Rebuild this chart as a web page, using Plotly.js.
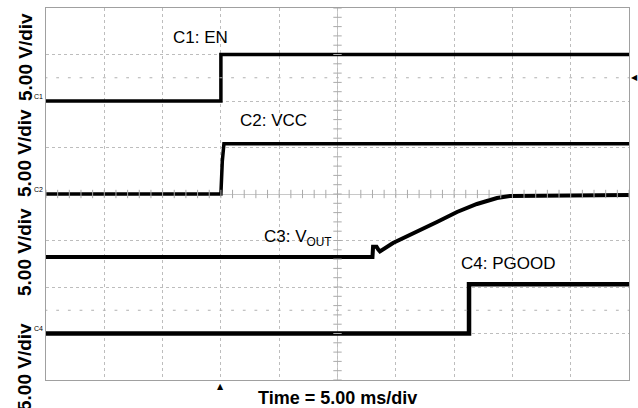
<!DOCTYPE html>
<html>
<head>
<meta charset="utf-8">
<script src="https://cdn.plot.ly/plotly-3.0.1.min.js"></script>
<style>html,body{margin:0;padding:0;background:#fff;}#chart{width:638px;height:408px;}</style>
</head>
<body>
<div id="chart"></div>
<script>
// Time in ms (trigger at 0), voltages in V
const enTime   = [-15, 0, 0, 35];
const enVolt   = [0, 0, 5, 5];
const vccTime  = [-15, 0, 0.12, 0.26, 35];
const vccVolt  = [0, 0, 3.5, 5.4, 5.4];
const voutTime = [-15, 13.0, 13.05, 13.35, 13.5, 13.64, 14.76, 16.82, 18.53, 20.25, 21.96, 23.68, 24.79, 35];
const voutVolt = [0, 0, 1.1, 1.1, 0.8, 0.6, 1.5, 2.69, 3.76, 4.84, 5.7, 6.34, 6.56, 6.67];
const pgTime   = [-15, 21.28, 21.28, 35];
const pgVolt   = [0, 0, 5.3, 5.3];

const channelNames = ["C1: EN", "C2: VCC", "C3: V<sub>OUT</sub>", "C4: PGOOD"];
const voltsPerDiv = 5;
const channelOffsetDiv = [2, 0, -1.355, -3];
const xRange = [-15, 35];
const yRange = [-4, 4];

function toDiv(arr, off) { return arr.map(v => off + v / voltsPerDiv); }

const traces = [];
const xs = [enTime, vccTime, voutTime, pgTime];
const ys = [enVolt, vccVolt, voutVolt, pgVolt];
const widths = [3.5, 3.5, 4, 4.5];
for (let i = 0; i < 4; i++) {
  traces.push({x: xs[i], y: toDiv(ys[i], channelOffsetDiv[i]), mode: 'lines',
    line: {color: '#000', width: widths[i]}, hoverinfo: 'skip', showlegend: false});
}

// graticule decorations: minor ticks on centre lines
const xc = (xRange[0] + xRange[1]) / 2;
const tickY = [], tickX = [];
for (let k = 0; k <= 40; k++) tickY.push(yRange[0] + k * 0.2);
for (let k = 0; k <= 50; k++) tickX.push(xRange[0] + k * 1);
traces.push({x: tickY.map(() => xc), y: tickY, mode: 'markers', hoverinfo: 'skip', showlegend: false,
  marker: {symbol: 'line-ew', size: 6, line: {color: '#aaa', width: 1}}});
traces.push({x: tickX, y: tickX.map(() => 0), mode: 'markers', hoverinfo: 'skip', showlegend: false,
  marker: {symbol: 'line-ns', size: 6, line: {color: '#aaa', width: 1}}});
[2.5, -2.5].forEach(lv => {
  traces.push({x: tickX, y: tickX.map(() => lv), mode: 'markers', hoverinfo: 'skip', showlegend: false,
    marker: {symbol: 'line-ew', size: 2, line: {color: '#b0b0b0', width: 1}}});
});

const labelFont = {family: 'Liberation Sans, Arial, sans-serif', size: 17, color: '#000'};
const boldFont = {family: 'Liberation Sans, Arial, sans-serif', size: 19, color: '#000', weight: 'bold'};
const annotations = [
  {x: -1.79, y: 3.37, text: channelNames[0]},
  {x: 4.47, y: 1.57, text: channelNames[1]},
  {x: 6.65, y: -0.95, text: channelNames[2]},
  {x: 24.62, y: -1.5, text: channelNames[3]}
].map(a => Object.assign({xref: 'x', yref: 'y', showarrow: false, font: labelFont}, a));

[2.946, 0.882, -1.247, -3.72].forEach(yv => {
  annotations.push({xref: 'paper', x: 0, xshift: -21, yref: 'y', y: yv, text: '5.00 V/div',
    textangle: -90, showarrow: false, font: boldFont, xanchor: 'center', yanchor: 'middle'});
});
annotations.push({xref: 'paper', x: 0.5, yref: 'paper', y: 0, yanchor: 'top', yshift: -6,
  text: 'Time = 5.00 ms/div', showarrow: false,
  font: {family: 'Liberation Sans, Arial, sans-serif', size: 18, color: '#000', weight: 'bold'}});
// trigger markers
annotations.push({xref: 'x', x: 0, yref: 'paper', y: 0, yanchor: 'top', yshift: 0, text: '▲',
  showarrow: false, font: {family: 'DejaVu Sans', size: 8, color: '#000'}});
annotations.push({xref: 'paper', x: 1, xanchor: 'left', xshift: 0, yref: 'y', y: 2.5, text: '◀',
  showarrow: false, font: {family: 'DejaVu Sans', size: 8, color: '#000'}});
// channel ground markers
[['C1', 2], ['C2', 0], ['C4', -3]].forEach(([t, yv]) => {
  annotations.push({xref: 'paper', x: 0, xanchor: 'right', xshift: -1, yref: 'y', y: yv, yshift: 5,
    text: t, showarrow: false, font: {family: 'Liberation Sans, Arial', size: 7, color: '#000'}});
});

const layout = {
  width: 638, height: 408,
  margin: {l: 46, r: 9, t: 8, b: 28},
  paper_bgcolor: '#fff', plot_bgcolor: '#fff',
  showlegend: false,
  xaxis: {range: xRange, dtick: 5, tick0: -15, showticklabels: false, ticks: '',
    showgrid: true, gridcolor: '#bdbdbd', griddash: 'dot', gridwidth: 1, zeroline: false,
    showline: true, mirror: true, linecolor: '#a0a0a0', linewidth: 1, fixedrange: true},
  yaxis: {range: yRange, dtick: 1, tick0: -4, showticklabels: false, ticks: '',
    showgrid: true, gridcolor: '#bdbdbd', griddash: 'dot', gridwidth: 1,
    zeroline: true, zerolinecolor: '#c8c8c8', zerolinewidth: 1,
    showline: true, mirror: true, linecolor: '#a0a0a0', linewidth: 1, fixedrange: true},
  shapes: [{type: 'line', xref: 'x', yref: 'paper', x0: xc, x1: xc, y0: 0, y1: 1,
    line: {color: '#c8c8c8', width: 1}, layer: 'below'}],
  annotations: annotations
};

Plotly.newPlot('chart', traces, layout, {staticPlot: true, displayModeBar: false});
</script>
</body>
</html>
